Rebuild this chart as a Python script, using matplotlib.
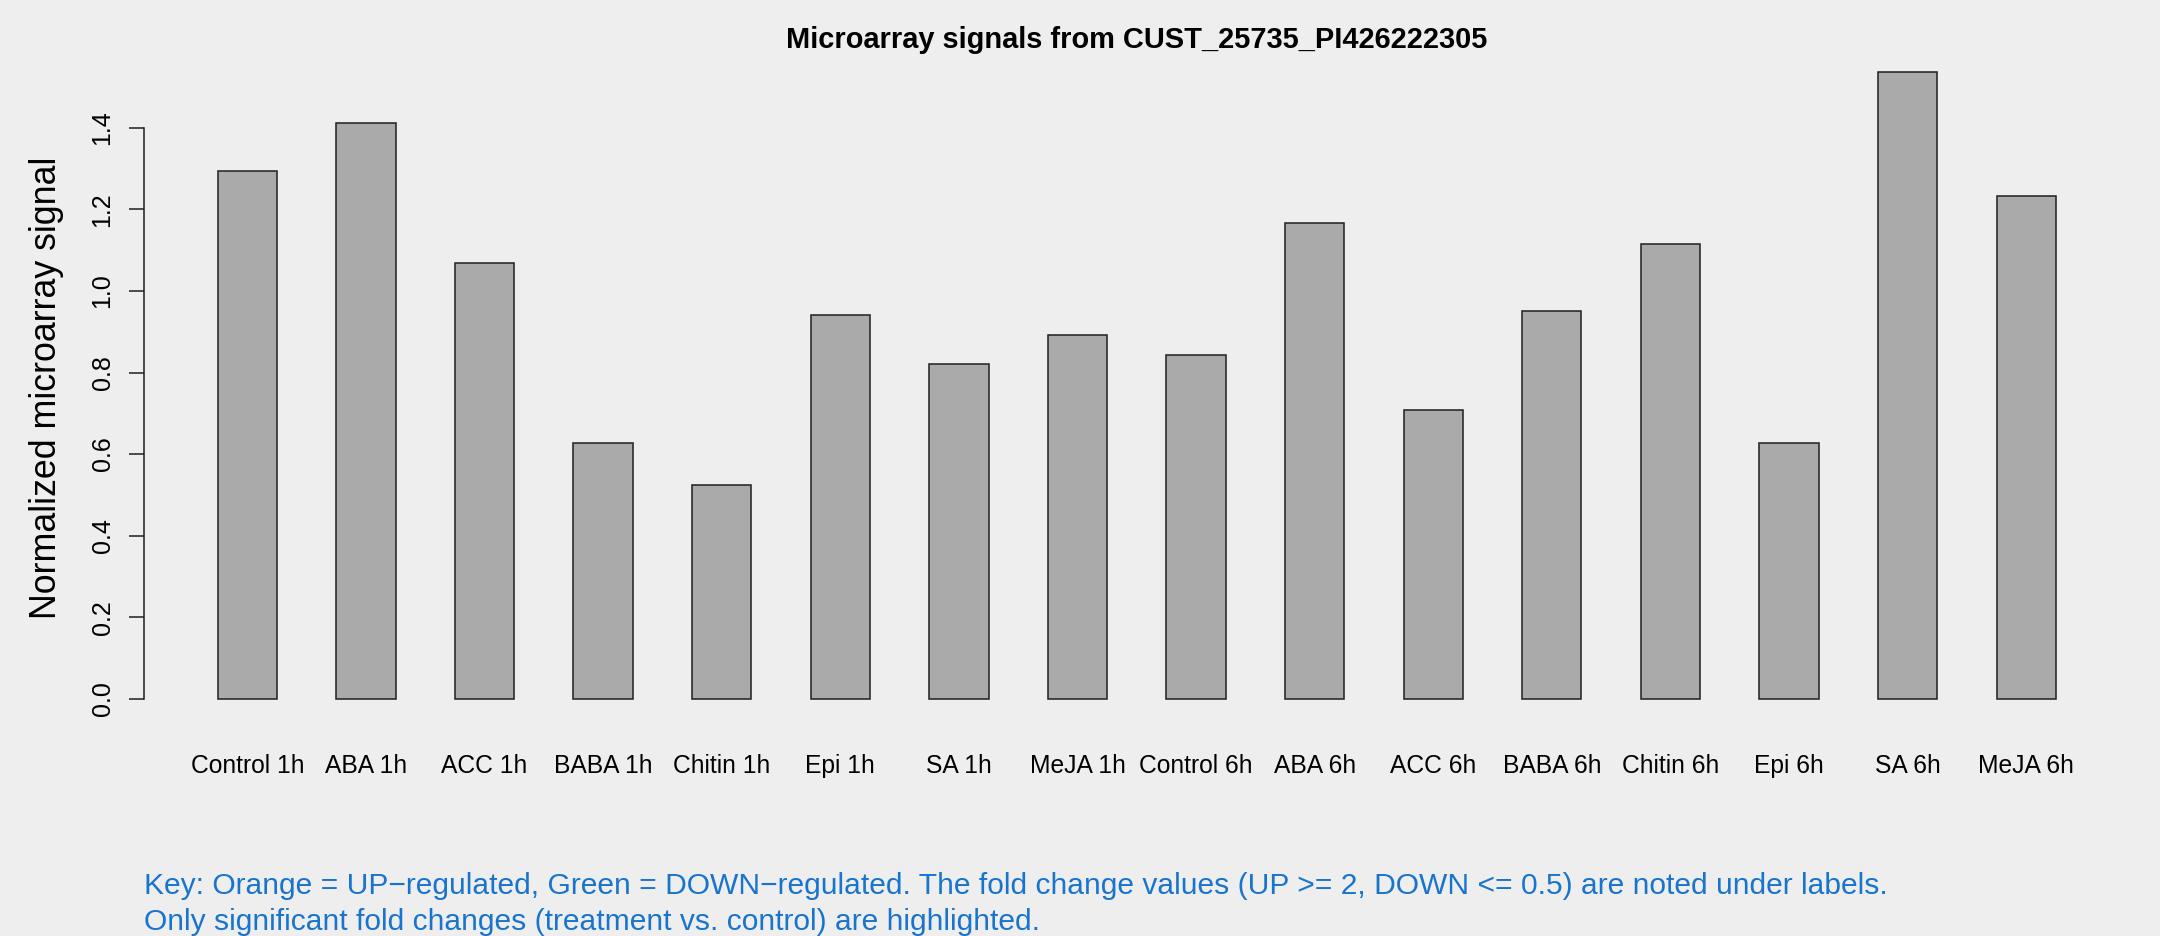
import matplotlib
matplotlib.use("Agg")
import matplotlib.pyplot as plt

# ---- data ----
categories = ["Control 1h", "ABA 1h", "ACC 1h", "BABA 1h", "Chitin 1h", "Epi 1h",
              "SA 1h", "MeJA 1h", "Control 6h", "ABA 6h", "ACC 6h", "BABA 6h",
              "Chitin 6h", "Epi 6h", "SA 6h", "MeJA 6h"]
values = [1.295, 1.411, 1.068, 0.626, 0.524, 0.942, 0.821, 0.892,
          0.844, 1.167, 0.707, 0.952, 1.115, 0.628, 1.537, 1.233]
yticks = [0.0, 0.2, 0.4, 0.6, 0.8, 1.0, 1.2, 1.4]
title = "Microarray signals from CUST_25735_PI426222305"
ylabel = "Normalized microarray signal"
key_lines = ["Key: Orange = UP\u2212regulated, Green = DOWN\u2212regulated. The fold change values (UP >= 2, DOWN <= 0.5) are noted under labels.",
             "Only significant fold changes (treatment vs. control) are highlighted."]

BG = "#EEEEEE"
DPI = 150
W, H = 2160, 936
plt.rcParams["font.family"] = ["Liberation Sans", "DejaVu Sans"]

fig = plt.figure(figsize=(W / DPI, H / DPI), dpi=DPI, facecolor=BG)
left, right, bottom, top = 144.1, 2129.4, 723.9, 46.8
ax = fig.add_axes([left / W, 1 - bottom / H, (right - left) / W, (bottom - top) / H])
ax.set_facecolor(BG)

# R barplot layout: width 1, space 1
centers = [1.5 + 2 * i for i in range(len(categories))]
ax.bar(centers, values, width=1.0, color="#AAAAAA", edgecolor="#222222", linewidth=0.75)

xmin, xmax = 1.0, 2.0 * len(categories)
span = xmax - xmin
ax.set_xlim(xmin - 0.04 * span, xmax + 0.04 * span)
vmax = max(values)
ax.set_ylim(-0.04 * vmax, vmax * 1.04)

for s in ["top", "right", "bottom"]:
    ax.spines[s].set_visible(False)
ax.spines["left"].set_bounds(yticks[0], yticks[-1])
ax.spines["left"].set_linewidth(0.75)
ax.spines["left"].set_color("#222222")

ax.set_yticks(yticks)
ax.set_yticklabels([f"{t:.1f}" for t in yticks], rotation=90, va="center", ha="right",
                   fontsize=12)
ax.tick_params(axis="y", length=7.06, width=0.75, color="#222222", pad=7.1)

ax.set_xticks(centers)
ax.set_xticklabels(categories, fontsize=11.8)
ax.tick_params(axis="x", length=0, pad=14.4)

# title
fig.text((left + right) / 2 / W, 1 - 48 / H, title, ha="center", va="baseline",
         fontsize=13.9, fontweight="bold")

# y label
fig.text(55.8 / W, 1 - 388 / H, ylabel, rotation=90, rotation_mode="anchor",
         ha="center", va="baseline", fontsize=17.2)

# key text
for i, line in enumerate(key_lines):
    fig.text(144.5 / W, 1 - (894 + 36 * i) / H, line, ha="left", va="baseline",
             fontsize=14.4, color="#1874CD")

fig.savefig("out.png", dpi=DPI, facecolor=BG)
